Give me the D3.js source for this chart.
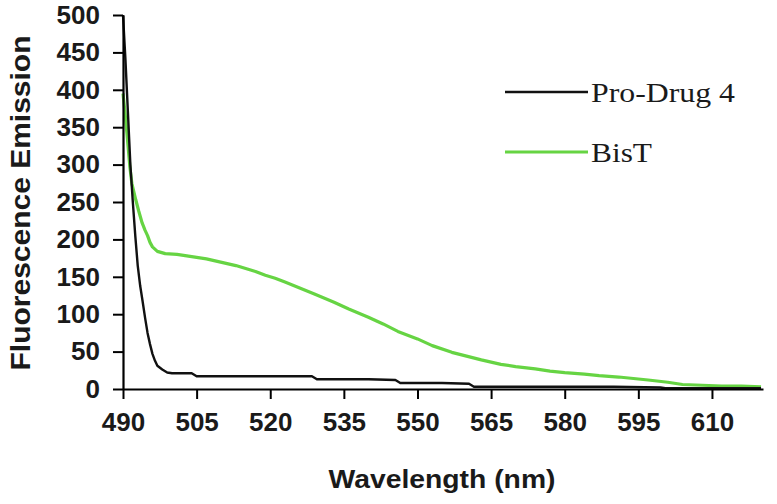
<!DOCTYPE html>
<html>
<head>
<meta charset="utf-8">
<script src="https://cdn.jsdelivr.net/npm/d3@7"></script>
<style>
  html, body { margin: 0; padding: 0; background: #fff; }
  svg { display: block; }
</style>
</head>
<body>
<svg id="chart" width="777" height="504"></svg>
<script>
// ---- data ----
const seriesNames = ["Pro-Drug 4", "BisT"];
const xTicks = [490, 505, 520, 535, 550, 565, 580, 595, 610];
const yTicks = [0, 50, 100, 150, 200, 250, 300, 350, 400, 450, 500];

const proDrugWavelength = [490, 490.5, 491, 491.5, 492, 492.5, 493, 493.5, 494, 494.5, 495, 495.5, 496, 496.5, 497, 498, 499, 500, 504, 505, 510, 515, 520, 525, 528.5, 529.5, 535, 540, 545.5, 546.5, 550, 555, 560.5, 561.5, 570, 580, 590, 599.5, 600.5, 610, 620];
const proDrugEmission   = [500, 440, 370, 300, 250, 205, 165, 138, 117, 95, 75, 60, 47, 38, 31, 26, 22, 21, 21, 17, 17, 17, 17, 17, 17, 13, 13, 13, 12, 8, 8, 8, 7, 3, 3, 3, 3, 2, 1, 1, 1];

const bisTWavelength = [490, 490.4, 490.8, 491.4, 491.8, 492.6, 493.2, 493.9, 494.5, 495, 495.5, 496, 497, 498.6, 501, 503, 505, 507, 509, 511, 513, 515, 517, 519, 521, 523, 526, 529, 533, 536, 540, 543, 546, 550, 553, 557, 560, 563, 567, 570, 574, 577, 580, 584, 587, 591, 594, 597, 601, 604, 608, 612, 616, 620];
const bisTEmission   = [395, 370, 342, 297, 275, 253, 238, 222, 212, 205, 196, 190, 184, 181, 180, 178, 176, 174, 171, 168, 165, 161, 157, 152, 148, 143, 135, 127, 116, 107, 96, 87, 77, 67, 58, 49, 44, 39, 33, 30, 27, 24, 22, 20, 18, 16, 14, 12, 9, 6, 5, 4, 4, 3];

const seriesColors = ["#111111", "#66d443"];

// ---- layout ----
const svg = d3.select("#chart");
const x = d3.scaleLinear().domain([490, 620.4]).range([123, 763]);
const y = d3.scaleLinear().domain([0, 500]).range([389, 15]);
const textColor = "#1a1a1a";

// lines
const line = d3.line().x(d => x(d[0])).y(d => y(d[1]));
const bisT = d3.zip(bisTWavelength, bisTEmission);
const proDrug = d3.zip(proDrugWavelength, proDrugEmission);

svg.append("path").datum(bisT)
  .attr("d", line).attr("fill", "none")
  .attr("stroke", seriesColors[1]).attr("stroke-width", 3.2)
  .attr("stroke-linejoin", "round");
svg.append("path").datum(proDrug)
  .attr("d", line).attr("fill", "none")
  .attr("stroke", seriesColors[0]).attr("stroke-width", 2.4)
  .attr("stroke-linejoin", "round");

// y axis
const yAxis = svg.append("g").attr("transform", `translate(${x(490)},0)`)
  .call(d3.axisLeft(y).tickValues(yTicks).tickSize(10).tickSizeOuter(0).tickPadding(13));
yAxis.select(".domain").attr("stroke", "#000").attr("stroke-width", 2.2);
yAxis.selectAll(".tick line").attr("stroke", "#000").attr("stroke-width", 2);
yAxis.selectAll(".tick text")
  .attr("font-family", "'Liberation Sans', Arial, sans-serif")
  .attr("font-size", 26).attr("font-weight", "bold").attr("fill", textColor);

// x axis
const xAxis = svg.append("g").attr("transform", `translate(0,${y(0)})`)
  .call(d3.axisBottom(x).tickValues(xTicks).tickSize(10).tickSizeOuter(0).tickPadding(14));
xAxis.select(".domain").attr("stroke", "#000").attr("stroke-width", 2.2);
xAxis.selectAll(".tick line").attr("stroke", "#000").attr("stroke-width", 2);
xAxis.selectAll(".tick text")
  .attr("font-family", "'Liberation Sans', Arial, sans-serif")
  .attr("font-size", 26).attr("font-weight", "bold").attr("fill", textColor);

// axis titles
svg.append("text")
  .attr("x", 442).attr("y", 488)
  .attr("text-anchor", "middle")
  .attr("font-family", "'Liberation Sans', Arial, sans-serif")
  .attr("font-size", 26).attr("font-weight", "bold").attr("fill", textColor)
  .attr("textLength", 227).attr("lengthAdjust", "spacingAndGlyphs")
  .text("Wavelength (nm)");

svg.append("text")
  .attr("transform", "translate(30,203) rotate(-90)")
  .attr("text-anchor", "middle")
  .attr("font-family", "'Liberation Sans', Arial, sans-serif")
  .attr("font-size", 27).attr("font-weight", "bold").attr("fill", textColor)
  .attr("textLength", 335).attr("lengthAdjust", "spacingAndGlyphs")
  .text("Fluorescence Emission");

// legend
const legendY = [92, 152];
const legendBase = [102, 162];
const legendW = [144, 61];
seriesNames.forEach((name, i) => {
  svg.append("line")
    .attr("x1", 505).attr("x2", 588)
    .attr("y1", legendY[i]).attr("y2", legendY[i])
    .attr("stroke", seriesColors[i]).attr("stroke-width", i === 0 ? 2.4 : 3.2);
  svg.append("text")
    .attr("x", 591).attr("y", legendBase[i])
    .attr("font-family", "'Liberation Serif', 'Times New Roman', serif")
    .attr("font-size", 28).attr("fill", textColor)
    .attr("textLength", legendW[i]).attr("lengthAdjust", "spacingAndGlyphs")
    .text(name);
});
</script>
</body>
</html>
